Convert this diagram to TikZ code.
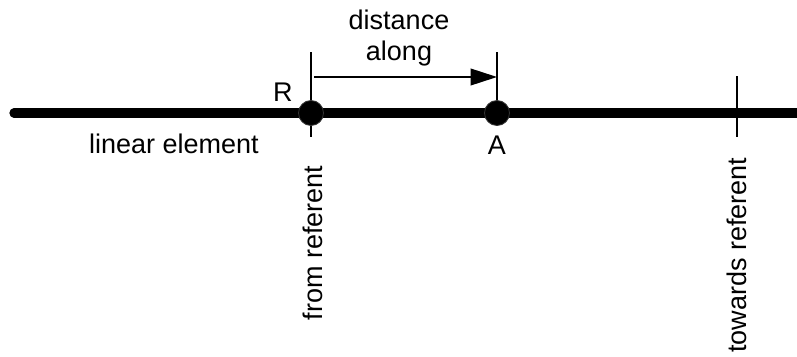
\documentclass[tikz,border=0pt]{standalone}
\usepackage{fontspec}
\setmainfont{Liberation Sans}
\usetikzlibrary{arrows.meta}

\begin{document}
\begin{tikzpicture}[x=0.025cm,y=-0.025cm,
    every node/.style={font=\fontsize{19.2}{22}\selectfont},
    dot/.style={circle,fill=black,draw=black!80,line width=0.6pt,minimum size=0.625cm,inner sep=0pt},
    tick/.style={line width=1pt},
    lbl/.style={inner sep=0pt}]
      \useasboundingbox (0,0) rectangle (797,356);
      % linear element
      \draw[line width=6.6pt,line cap=round] (14,113) -- (810,113);
      \coordinate (Rtop) at (311,52);
      \coordinate (Rbot) at (311,137);
      \coordinate (Atop) at (497,52);
      \coordinate (Ttop) at (737,76);
      \coordinate (Tbot) at (737,137);
      \draw[tick] (Rtop) -- (Rbot);
      \draw[tick] (Atop) -- (497,113);
      \draw[tick] (Ttop) -- (Tbot);
      \node[dot] (R) at (311,113) {};
      \node[dot] (A) at (497,113) {};
      \draw[tick,-{Triangle[length=0.66cm,width=0.42cm]}] (314,77) -- (497,77);
      \node[lbl,align=center,anchor=base] (dist) at (399,60) {distance\\along};
      \node[lbl,anchor=base east] (Rlbl) at (293,101) {R};
      \node[lbl,anchor=base] (Albl) at (497,154) {A};
      \node[lbl,anchor=base] (lin) at (174,153) {linear element};
      \node[lbl,anchor=base,rotate=90] (from) at (322,243) {from referent};
      \node[lbl,anchor=base,rotate=90] (towards) at (746,255) {towards referent};
\end{tikzpicture}
\end{document}
